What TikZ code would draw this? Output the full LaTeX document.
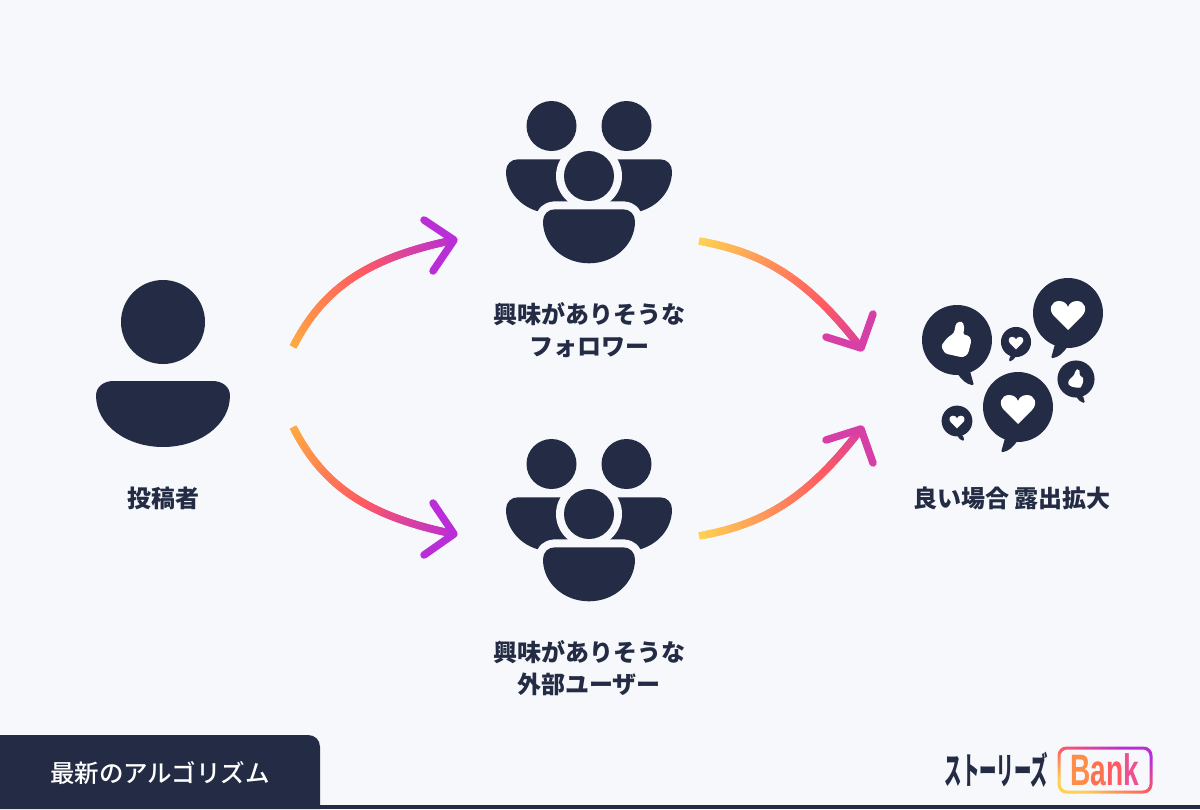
\documentclass[tikz,border=0pt]{standalone}
\usepackage{fontspec}
\setmainfont{Noto Sans CJK JP}
\newfontfamily\tabfont{Noto Sans CJK JP Medium}
\newfontfamily\logofont{Liberation Sans}
\usepackage{xcolor}
\definecolor{inkblue}{HTML}{232C44}
\definecolor{paper}{HTML}{F7F8FC}
\definecolor{gradyellow}{HTML}{FFD052}
\definecolor{gradorange}{HTML}{FFA843}
\definecolor{gradred}{HTML}{FF5A60}
\definecolor{gradpink}{HTML}{D63FA5}
\definecolor{gradpurple}{HTML}{B92ED6}
\usetikzlibrary{positioning,calc}

\pgfdeclarehorizontalshading{bankfade}{100bp}{color(0bp)=(gradyellow); color(27bp)=(gradyellow); color(50bp)=(gradred); color(73bp)=(gradpurple); color(100bp)=(gradpurple)}

% curve from (#1s) to (#1e), head arms (#1l) and (#1r), colours #2 #3 #4, #5 = step of the middle colour
\newcommand{\gradarrow}[5]{
  \path (#1s) .. controls (#1a) and (#1b) .. (#1e)
    foreach \i [evaluate=\i as \t using \i/50] in {0,...,50} {coordinate[pos=\t] (seg\i)};
  \foreach \i in {0,...,48} {
    \pgfmathtruncatemacro{\j}{\i+2}
    \ifnum\i<#5
      \pgfmathtruncatemacro{\p}{100*\i/#5}
      \colorlet{segcol}{#3!\p!#2}
    \else
      \pgfmathtruncatemacro{\p}{100*(\i-#5)/(50-#5)}
      \colorlet{segcol}{#4!\p!#3}
    \fi
    \draw[arr, draw=segcol] (seg\i) -- (seg\j);
  }
  \draw[arr, draw=#4, line cap=round, line join=round] (#1l) -- (#1e) -- (#1r);
}

\tikzset{
  pics/bodyshape/.style={code={
    \fill[icon] (-34,0) -- (34,0) .. controls (41,0) and (46,5) .. (46,12)
      .. controls (46,36) and (25,54) .. (0,54) .. controls (-25,54) and (-46,36) .. (-46,12)
      .. controls (-46,5) and (-41,0) .. (-34,0) -- cycle;
  }},
  pics/crowd/.style={code={
    \fill[icon] (-37.5,-50) circle (25);
    \fill[icon] (37.5,-50) circle (25);
    \pic at (-37,-16.7) {bodyshape};
    \pic at (37,-16.7) {bodyshape};
    \fill[paper] (0,0) circle (33);
    \draw[paper, line width=16, line join=round] (-34,33.3) -- (34,33.3) .. controls (41,33.3) and (46,38.3) .. (46,45.3)
      .. controls (46,69.3) and (25,87.3) .. (0,87.3) .. controls (-25,87.3) and (-46,69.3) .. (-46,45.3)
      .. controls (-46,38.3) and (-41,33.3) .. (-34,33.3) -- cycle;
    \fill[icon] (0,0) circle (25);
    \pic at (0,33.3) {bodyshape};
  }},
  pics/bubble/.style={code={
    \fill[icon] (0,0) circle (35);
    \fill[icon, rounded corners=1.5] (0,33) .. controls (5,40) and (9,44) .. (17,45.5) -- (13,31) -- cycle;
  }},
  pics/heart/.style={code={
    \fill[white] (0,17) -- (-14,3) .. controls (-20,-3) and (-17,-12) .. (-9,-12)
      .. controls (-4,-12) and (-1,-9) .. (0,-6) .. controls (1,-9) and (4,-12) .. (9,-12)
      .. controls (17,-12) and (20,-3) .. (14,3) -- cycle;
  }},
  pics/thumb/.style={code={
    \fill[white, rounded corners=2.5] (-16,6) -- (-10,-2) -- (-3,-7) -- (-1,-17) -- (5,-19) -- (7.5,-13)
      -- (6,-5) -- (11,-5) -- (14.5,0) -- (11,14) -- (6,17.5) -- (-12,13.5) -- cycle;
  }}
}

\begin{document}
\begin{tikzpicture}[x=1pt, y=-1pt,
    icon/.style={fill=inkblue},
    arr/.style={line width=7.5},
    caption/.style={text=inkblue, align=center, font=\fontsize{24}{32}\selectfont\bfseries}]
  \useasboundingbox (0,0) rectangle (1200,809);
  \fill[paper] (0,0) rectangle (1200,809);

  % footer
  \fill[inkblue] (0,805) rectangle (1200,809);
  \fill[inkblue] (0,735) -- (308,735) .. controls (315,735) and (320,740) .. (320,747) -- (320,809) -- (0,809) -- cycle;
  \node[text=white, font=\fontsize{24.5}{24}\selectfont\tabfont] (algo) at (160,773) {最新のアルゴリズム};

  % poster
  \fill[icon] (163,322) circle (42);
  \pic[xscale=1.456, yscale=1.222] at (163,381) {bodyshape};
  \node[caption] (poster) at (163,498) {投稿者};

  % two audiences
  \pic (followers) at (589,176) {crowd};
  \pic (others) at (589,514) {crowd};
  \node[caption] (followerlabel) at (589,330) {興味がありそうな\\フォロワー};
  \node[caption] (otherlabel) at (589,668) {興味がありそうな\\外部ユーザー};

  % reactions
  \pic[xshift=957, yshift=-340] {bubble};
  \pic[xshift=957, yshift=-340] {thumb};
  \pic[xshift=1068, yshift=-313, xscale=-1] {bubble};
  \pic[xshift=1068, yshift=-313] {heart};
  \pic[xshift=1018, yshift=-407, xscale=-1] {bubble};
  \pic[xshift=1018, yshift=-407] {heart};
  \pic[xshift=1016, yshift=-342, scale=0.43, xscale=-1] {bubble};
  \pic[xshift=1016, yshift=-342, scale=0.43] {heart};
  \pic[xshift=1076, yshift=-379, scale=0.53] {bubble};
  \pic[xshift=1076, yshift=-379, scale=0.53] {thumb};
  \pic[xshift=957, yshift=-421, scale=0.44] {bubble};
  \pic[xshift=957, yshift=-421, scale=0.44] {heart};
  \node[caption] (result) at (1012,498) {良い場合 露出拡大};

  % arrows
  \coordinate (ups) at (293,347);
  \coordinate (upa) at (322,290);
  \coordinate (upb) at (365,258);
  \coordinate (upe) at (454,240);
  \coordinate (upl) at (424,220);
  \coordinate (upr) at (433,271);
  \gradarrow{up}{gradorange}{gradred}{gradpurple}{28}

  \coordinate (dns) at (293,427);
  \coordinate (dna) at (322,484);
  \coordinate (dnb) at (365,516);
  \coordinate (dne) at (454,534);
  \coordinate (dnl) at (424,555);
  \coordinate (dnr) at (433,503);
  \gradarrow{dn}{gradorange}{gradred}{gradpurple}{28}

  \coordinate (ins) at (699,241);
  \coordinate (ina) at (760,252);
  \coordinate (inb) at (805,275);
  \coordinate (ine) at (861,348);
  \coordinate (inl) at (826,337);
  \coordinate (inr) at (873,314);
  \gradarrow{in}{gradyellow}{gradred}{gradpink}{38}

  \coordinate (ous) at (699,536);
  \coordinate (oua) at (760,525);
  \coordinate (oub) at (805,502);
  \coordinate (oue) at (861,429);
  \coordinate (oul) at (826,440);
  \coordinate (our) at (873,463);
  \gradarrow{ou}{gradyellow}{gradred}{gradpink}{38}

  % logo
  \node[text=inkblue, xscale=0.47, transform shape, font=\fontsize{37}{37}\selectfont\bfseries, inner sep=0] (brand) at (996.5,770) {ストーリーズ};
  \shade[shading=bankfade, shading angle=64, rounded corners=9] (1057.5,746.5) rectangle (1152.5,793.5);
  \fill[paper, rounded corners=7] (1060.5,749.5) rectangle (1149.5,790.5);
  \node[xscale=0.64, transform shape, font=\fontsize{44}{44}\selectfont\logofont\bfseries, inner sep=0] (bank) at (1105,770)
    {\textcolor[HTML]{FF8C48}{B}\textcolor[HTML]{FF7050}{a}\textcolor[HTML]{FF5A60}{n}\textcolor[HTML]{EE5090}{k}};
\end{tikzpicture}
\end{document}
